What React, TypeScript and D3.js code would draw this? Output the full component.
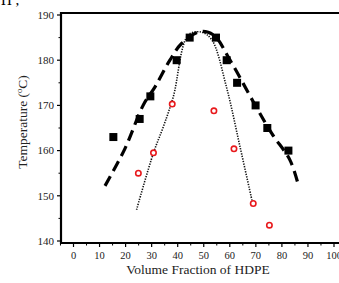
import React, { useEffect, useRef } from 'react';
import * as d3 from 'd3';

const W = 339;
const H = 283;

// measured points (volume fraction %, temperature °C)
const squaresX = [15.3, 25.4, 29.5, 39.6, 44.6, 54.7, 58.8, 62.8, 69.9, 74.4, 82.5];
const squaresY = [163, 167, 172, 180, 185, 185, 180, 175, 170, 165, 160];

const circlesX = [24.9, 30.7, 37.9, 53.9, 61.6, 69.0, 75.2];
const circlesY = [155, 159.5, 170.3, 168.8, 160.4, 148.3, 143.5];

// dashed fit curve
const dashX = [12.1, 19.8, 26.8, 31.3, 37.0, 41.5, 48.5, 53.7, 60.1, 69.7, 76.1, 83.1, 86.3];
const dashY = [152.2, 160.5, 170.1, 174.1, 180, 183.7, 186.3, 185.6, 180, 170.1, 163.8, 157.9, 152.4];

// dotted fit curve
const dotX = [24.2, 30.7, 34.5, 38.3, 44.1, 49.2, 53.1, 58.7, 63.9, 68.7];
const dotY = [146.9, 159.5, 165.3, 171.9, 185.6, 186.2, 184.5, 174.1, 160.9, 148.5];

const xTicks = [0, 10, 20, 30, 40, 50, 60, 70, 80, 90, 100];
const xMinor = [-5, 5, 15, 25, 35, 45, 55, 65, 75, 85, 95];
const yTicks = [140, 150, 160, 170, 180, 190];
const yMinor = [145, 155, 165, 175, 185];

const App: React.FC = () => {
  const ref = useRef<SVGSVGElement | null>(null);

  useEffect(() => {
    if (!ref.current) return;
    const svg = d3.select(ref.current);
    svg.selectAll('*').remove();

    const x = d3.scaleLinear().domain([0, 100]).range([73.5, 334]);
    const y = d3.scaleLinear().domain([140, 190]).range([241, 15]);
    const left = 61;
    const top = 13;
    const bottom = 243;
    const font = '"Liberation Serif", "Times New Roman", serif';

    svg.append('rect').attr('width', W).attr('height', H).attr('fill', '#fff');

    // cropped caption fragment at top-left
    svg.append('text').attr('x', 1).attr('y', 5).attr('font-family', font)
      .attr('font-size', 15).attr('fill', '#000').text('H ,');

    // frame
    svg.append('line').attr('x1', left).attr('x2', W).attr('y1', top).attr('y2', top)
      .attr('stroke', '#000').attr('stroke-width', 2);
    svg.append('line').attr('x1', left).attr('x2', W).attr('y1', bottom).attr('y2', bottom)
      .attr('stroke', '#000').attr('stroke-width', 2.2);
    svg.append('line').attr('x1', left).attr('x2', left).attr('y1', top - 1).attr('y2', bottom + 1)
      .attr('stroke', '#000').attr('stroke-width', 2.2);

    // x ticks
    svg.selectAll('.xt').data(xTicks).enter().append('line')
      .attr('x1', (d) => x(d)).attr('x2', (d) => x(d))
      .attr('y1', bottom).attr('y2', bottom + 4)
      .attr('stroke', '#000').attr('stroke-width', 1.2);
    svg.selectAll('.xm').data(xMinor).enter().append('line')
      .attr('x1', (d) => x(d)).attr('x2', (d) => x(d))
      .attr('y1', bottom).attr('y2', bottom + 2.5)
      .attr('stroke', '#000').attr('stroke-width', 1);
    svg.selectAll('.xl').data(xTicks).enter().append('text')
      .attr('x', (d) => x(d)).attr('y', bottom + 16)
      .attr('text-anchor', 'middle').attr('font-family', font).attr('font-size', 10.5)
      .attr('fill', '#222').text((d) => d);

    // y ticks
    svg.selectAll('.yt').data(yTicks).enter().append('line')
      .attr('x1', left - 4).attr('x2', left)
      .attr('y1', (d) => y(d)).attr('y2', (d) => y(d))
      .attr('stroke', '#000').attr('stroke-width', 1.2);
    svg.selectAll('.ym').data(yMinor).enter().append('line')
      .attr('x1', left - 2.5).attr('x2', left)
      .attr('y1', (d) => y(d)).attr('y2', (d) => y(d))
      .attr('stroke', '#000').attr('stroke-width', 1);
    svg.selectAll('.yl').data(yTicks).enter().append('text')
      .attr('x', left - 7).attr('y', (d) => y(d) + 3.8)
      .attr('text-anchor', 'end').attr('font-family', font).attr('font-size', 11)
      .attr('fill', '#222').text((d) => d);

    // axis titles
    svg.append('text').attr('x', 198).attr('y', 274).attr('text-anchor', 'middle')
      .attr('font-family', font).attr('font-size', 13.5).attr('fill', '#222')
      .text('Volume Fraction of HDPE');
    const yt = svg.append('text')
      .attr('transform', 'translate(27,122) rotate(-90)')
      .attr('text-anchor', 'middle').attr('font-family', font).attr('font-size', 13.5)
      .attr('fill', '#222');
    yt.append('tspan').text('Temperature (');
    yt.append('tspan').attr('dy', -5).attr('font-size', 8.5).text('o');
    yt.append('tspan').attr('dy', 5).text('C)');

    // curves
    const line = d3.line<[number, number]>()
      .x((d) => x(d[0])).y((d) => y(d[1]))
      .curve(d3.curveCatmullRom.alpha(0.5));
    svg.append('path')
      .attr('d', line(d3.zip(dashX, dashY) as [number, number][]) as string)
      .attr('fill', 'none').attr('stroke', '#000').attr('stroke-width', 3.2)
      .attr('stroke-dasharray', '11,6');
    svg.append('path')
      .attr('d', line(d3.zip(dotX, dotY) as [number, number][]) as string)
      .attr('fill', 'none').attr('stroke', '#111').attr('stroke-width', 1.6)
      .attr('stroke-dasharray', '1.3,1.3');

    // markers
    svg.selectAll('.sq').data(d3.zip(squaresX, squaresY)).enter().append('rect')
      .attr('x', (d) => x(d[0]) - 4).attr('y', (d) => y(d[1]) - 4)
      .attr('width', 8).attr('height', 8).attr('fill', '#000');
    svg.selectAll('.ci').data(d3.zip(circlesX, circlesY)).enter().append('circle')
      .attr('cx', (d) => x(d[0])).attr('cy', (d) => y(d[1])).attr('r', 2.7)
      .attr('fill', '#fff').attr('stroke', '#e8191c').attr('stroke-width', 1.6);
  }, []);

  return (
    <svg ref={ref} width={W} height={H}
      style={{ position: 'absolute', left: 0, top: 0, display: 'block' }} />
  );
};

export default App;
